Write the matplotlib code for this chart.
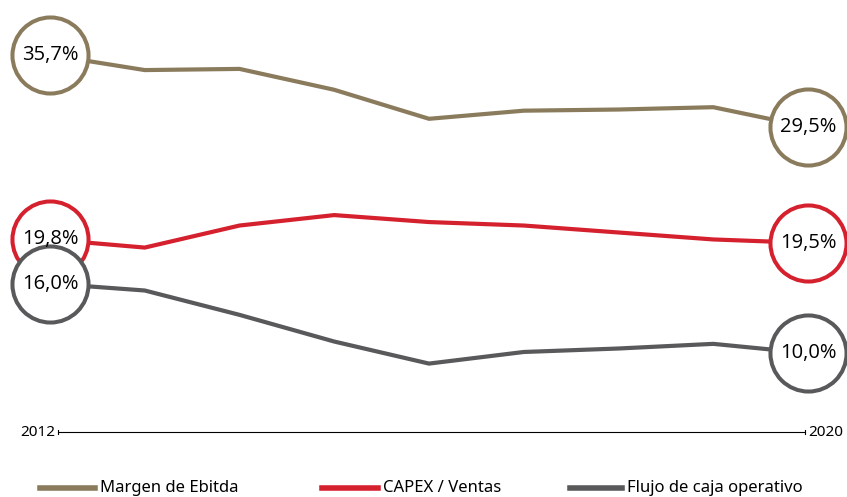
import matplotlib
matplotlib.use("Agg")
import matplotlib.pyplot as plt
from matplotlib import font_manager

years = [2012, 2013, 2014, 2015, 2016, 2017, 2018, 2019, 2020]
margen_ebitda = [35.7, 34.4, 34.5, 32.7, 30.2, 30.9, 31.0, 31.2, 29.5]
capex_ventas = [19.8, 19.1, 21.0, 21.9, 21.3, 21.0, 20.4, 19.8, 19.5]
flujo_caja = [16.0, 15.4, 13.3, 11.0, 9.1, 10.1, 10.4, 10.8, 10.0]

series_names = ["Margen de Ebitda", "CAPEX / Ventas", "Flujo de caja operativo"]
series_values = [margen_ebitda, capex_ventas, flujo_caja]
series_colors = ["#8a7b5c", "#d5202e", "#59595b"]

installed = {f.name for f in font_manager.fontManager.ttflist}
narrow = "Liberation Sans Narrow" if "Liberation Sans Narrow" in installed else "Noto Sans"
label_font = ["Open Sans", "DejaVu Sans"]

W, H = 847, 497
fig = plt.figure(figsize=(W / 100, H / 100), dpi=100)
ax = fig.add_axes([0, 0, 1, 1])
ax.set_xlim(2011.4723, 2020.4116)
ax.set_ylim(-2.40, 40.44)
ax.axis("off")

def fmt(v):
    return f"{v:.1f}".replace(".", ",") + "%"

for vals, color in zip(series_values, series_colors):
    ax.plot(years, vals, color=color, lw=3.0, solid_joinstyle="miter", zorder=2)

for vals, color in zip(series_values, series_colors):
    for i in (0, len(years) - 1):
        ax.scatter([years[i]], [vals[i]], s=3000, facecolor="white",
                   edgecolor=color, linewidth=2.9, zorder=3 + (vals is flujo_caja))
        ax.text(years[i], vals[i], fmt(vals[i]), ha="center", va="center",
                fontsize=14.5, family=label_font, color="black", zorder=5)

# Horizontal time axis below the lines
axis_y = 3.2
x0 = ax.transData.inverted().transform((58, 0))[0]
x1 = ax.transData.inverted().transform((805, 0))[0]
ax.plot([x0, x1], [axis_y, axis_y], color="black", lw=0.8, zorder=1)
for xv in (x0, x1):
    ax.plot([xv, xv], [axis_y - 0.15, axis_y + 0.15], color="black", lw=0.8)
ax.text(x0 - 0.03, axis_y, str(years[0]), ha="right", va="center",
        fontsize=11, family=[narrow, "DejaVu Sans"])
ax.text(x1 + 0.03, axis_y, str(years[-1]), ha="left", va="center",
        fontsize=11, family=[narrow, "DejaVu Sans"])

# Legend row along the bottom edge
legend_y = 1 - 488 / H
swatches = [(40, 95), (322, 378), (570, 622)]
for (sx0, sx1), name, color in zip(swatches, series_names, series_colors):
    fig.add_artist(plt.Line2D([sx0 / W, sx1 / W], [legend_y, legend_y],
                              color=color, lw=4, transform=fig.transFigure))
    fig.text((sx1 + 5) / W, legend_y, name, ha="left", va="center",
             fontsize=12, family=[narrow, "DejaVu Sans"])

fig.savefig("out.png", dpi=100)
